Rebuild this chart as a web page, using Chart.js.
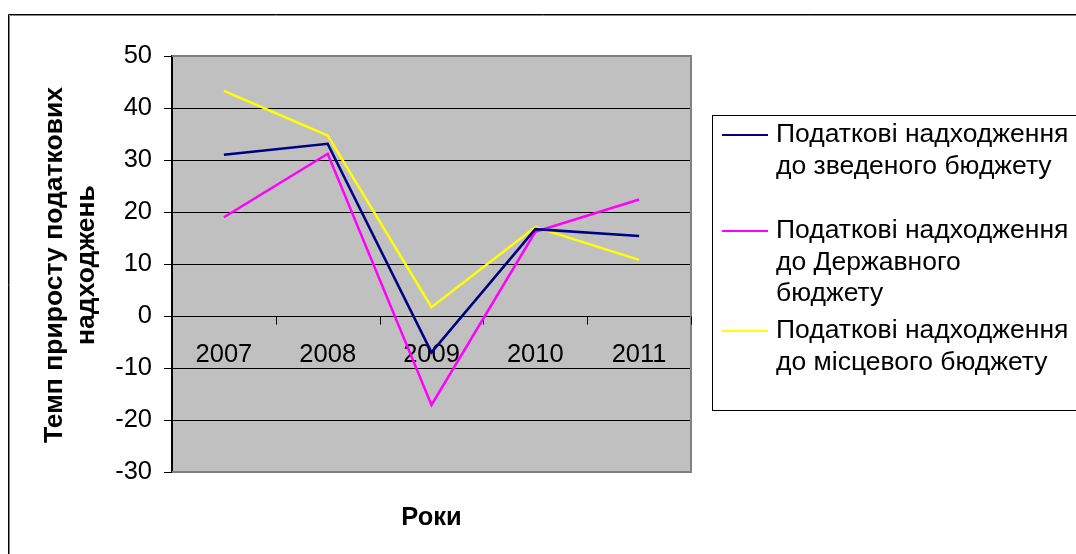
<!DOCTYPE html>
<html>
<head>
<meta charset="utf-8">
<script src="https://cdn.jsdelivr.net/npm/chart.js@4.4.0/dist/chart.umd.min.js"></script>
<style>
  html, body { margin: 0; padding: 0; background: #ffffff; }
  #wrap { width: 1076px; height: 554px; }
</style>
</head>
<body>
<div id="wrap"><canvas id="c" width="1076" height="554"></canvas></div>
<script>
// ---- data ----
const categories = ['2007', '2008', '2009', '2010', '2011'];
const consolidated = [31.0, 33.1, -7.0, 16.7, 15.4];
const stateBudget = [19.0, 31.2, -17.1, 16.2, 22.4];
const localBudget = [43.3, 34.7, 1.7, 17.1, 10.8];
const seriesNames = [
  'Податкові надходження до зведеного бюджету',
  'Податкові надходження до Державного бюджету',
  'Податкові надходження до місцевого бюджету'
];
const legendLines = [
  ['Податкові надходження', 'до зведеного бюджету'],
  ['Податкові надходження', 'до Державного', 'бюджету'],
  ['Податкові надходження', 'до місцевого бюджету']
];
const yTitleLines = ['Темп приросту податкових', 'надходжень'];
const xTitle = 'Роки';
const yMin = -30, yMax = 50, yStep = 10;

const FONT = '"Liberation Sans", Arial, sans-serif';
const FS = 25.5;
const FS_LEG = 26.5;
const FS_TITLE = 26.5;

const decor = {
  id: 'decor',
  beforeDraw(chart) {
    const ctx = chart.ctx;
    const a = chart.chartArea;
    ctx.save();
    ctx.strokeStyle = '#000';
    ctx.lineWidth = 1;
    ctx.beginPath();
    ctx.moveTo(8.5, 600); ctx.lineTo(8.5, 14.5); ctx.lineTo(1100, 14.5);
    ctx.stroke();
    ctx.strokeStyle = '#888';
    ctx.beginPath();
    ctx.moveTo(9.5, 600); ctx.lineTo(9.5, 15.5); ctx.lineTo(1100, 15.5);
    ctx.stroke();
    ctx.fillStyle = '#c0c0c0';
    ctx.fillRect(a.left, a.top, a.right - a.left, a.bottom - a.top);
    ctx.restore();
  },
  beforeDatasetsDraw(chart) {
    const ctx = chart.ctx;
    const a = chart.chartArea;
    const xs = chart.scales.x, ys = chart.scales.y;
    const y0 = Math.round(ys.getPixelForValue(0)) + 0.5;
    ctx.save();
    ctx.strokeStyle = '#808080';
    ctx.lineWidth = 2;
    ctx.beginPath();
    ctx.moveTo(a.left, a.top); ctx.lineTo(a.right, a.top);
    ctx.lineTo(a.right, a.bottom); ctx.lineTo(a.left, a.bottom);
    ctx.stroke();
    ctx.strokeStyle = '#000';
    ctx.lineWidth = 1;
    for (let i = 0; i < categories.length; i++) {
      const px = Math.round(xs.getPixelForValue(i + 0.5)) + 0.5;
      ctx.beginPath();
      ctx.moveTo(px, y0); ctx.lineTo(px, y0 + 8);
      ctx.stroke();
    }
    ctx.fillStyle = '#000';
    ctx.font = FS + 'px ' + FONT;
    ctx.textAlign = 'center';
    ctx.textBaseline = 'middle';
    categories.forEach((c, i) => {
      ctx.fillText(c, xs.getPixelForValue(i), y0 + 38);
    });
    ctx.restore();
  },
  afterDraw(chart) {
    const ctx = chart.ctx;
    const a = chart.chartArea;
    ctx.save();
    ctx.fillStyle = '#000';
    ctx.font = 'bold ' + FS + 'px ' + FONT;
    ctx.textAlign = 'center';
    ctx.textBaseline = 'middle';
    ctx.fillText(xTitle, (a.left + a.right) / 2, 518);
    ctx.font = 'bold ' + FS_TITLE + 'px ' + FONT;
    ctx.save();
    ctx.translate(55, 265);
    ctx.rotate(-Math.PI / 2);
    ctx.fillText(yTitleLines[0], 0, 0);
    ctx.fillText(yTitleLines[1], 0, 32);
    ctx.restore();
    ctx.strokeStyle = '#000';
    ctx.lineWidth = 1;
    ctx.strokeRect(712.5, 115.5, 420, 295);
    const starts = [135, 231, 331];
    ctx.font = FS_LEG + 'px ' + FONT;
    ctx.textAlign = 'left';
    chart.data.datasets.forEach((ds, i) => {
      const y = starts[i];
      ctx.strokeStyle = ds.borderColor;
      ctx.lineWidth = 2;
      ctx.beginPath();
      ctx.moveTo(722, y); ctx.lineTo(768, y);
      ctx.stroke();
      legendLines[i].forEach((t, j) => {
        ctx.fillText(t, 776, y + j * 31.5);
      });
    });
    ctx.restore();
  }
};

new Chart(document.getElementById('c'), {
  type: 'line',
  data: {
    labels: categories,
    datasets: [
      { label: seriesNames[0], data: consolidated, borderColor: '#000080', borderWidth: 2.5, pointRadius: 0, tension: 0, fill: false },
      { label: seriesNames[1], data: stateBudget, borderColor: '#ff00ff', borderWidth: 2.5, pointRadius: 0, tension: 0, fill: false },
      { label: seriesNames[2], data: localBudget, borderColor: '#ffff00', borderWidth: 2.5, pointRadius: 0, tension: 0, fill: false }
    ]
  },
  options: {
    responsive: false,
    animation: false,
    devicePixelRatio: 1,
    layout: { padding: { left: 0, top: 56, right: 385, bottom: 82 } },
    plugins: { legend: { display: false }, tooltip: { enabled: false } },
    scales: {
      x: { display: false, offset: true },
      y: {
        min: yMin, max: yMax,
        afterFit(scale) { scale.width = 172; },
        ticks: { stepSize: yStep, color: '#000', padding: 12, font: { family: FONT, size: FS } },
        grid: { color: '#000', lineWidth: 1, tickLength: 8, tickColor: '#000' },
        border: { color: '#000', width: 2 }
      }
    }
  },
  plugins: [decor]
});
</script>
</body>
</html>
